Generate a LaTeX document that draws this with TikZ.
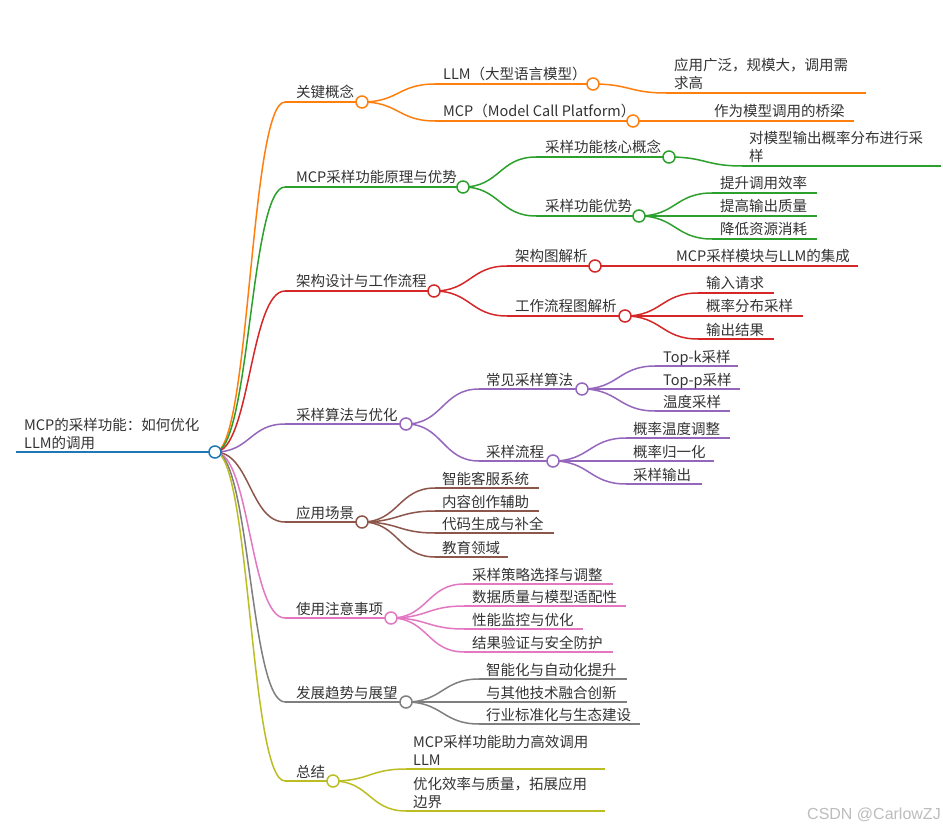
\documentclass[tikz,border=0pt]{standalone}
\usepackage{fontspec}
\setmainfont{Noto Sans CJK SC}
\newfontfamily\wmfont{Liberation Sans}
\usetikzlibrary{calc}
\definecolor{mmblue}{HTML}{1F77B4}
\definecolor{mmorange}{HTML}{FF7F0E}
\definecolor{mmgreen}{HTML}{2CA02C}
\definecolor{mmred}{HTML}{D62728}
\definecolor{mmpurple}{HTML}{9467BD}
\definecolor{mmbrown}{HTML}{8C564B}
\definecolor{mmpink}{HTML}{E377C2}
\definecolor{mmgray}{HTML}{7F7F7F}
\definecolor{mmolive}{HTML}{BCBD22}
\definecolor{mmtxt}{HTML}{333333}
\definecolor{wmgray}{HTML}{BDBDBD}
\tikzset{
  mmline/.style={line width=1.5pt},
  mmcurve/.style={to path={let \p1=(\tikztostart),\p2=(\tikztotarget) in
     .. controls ({(\x1+\x2)/2},\y1) and ({(\x1+\x2)/2},\y2) .. (\tikztotarget)}},
  mmtext/.style={anchor=base west, inner sep=0pt, text=mmtxt, font=\fontsize{14.5}{18}\selectfont},
  mmdotstyle/.style={circle, draw, minimum size=12pt, inner sep=0pt, fill=white, line width=1.5pt},
}
\newcommand\mmtopic[6]{% name x0 x1 y xt text
  \coordinate (#1-s) at (#2,#4);
  \coordinate (#1) at (#3,#4);
  \draw[mmline] (#1-s) -- (#1);
  \node[mmtext] (#1-t) at (#5,#4-4) {#6};
}
\newcommand\mmtopicII[7]{% name x0 x1 y xt line1 line2
  \coordinate (#1-s) at (#2,#4);
  \coordinate (#1) at (#3,#4);
  \draw[mmline] (#1-s) -- (#1);
  \node[mmtext] (#1-ta) at (#5,#4-22) {#6};
  \node[mmtext] (#1-t) at (#5,#4-4) {#7};
}
\newcommand\mmlink[2]{\draw[mmline] (#1) to[mmcurve] (#2-s);}
\newcommand\mmdot[1]{\node[mmdotstyle] (#1-c) at (#1) {};}
\begin{document}
\begin{tikzpicture}[x=1pt,y=-1pt]
\useasboundingbox (0,0) rectangle (943,829);
\fill[white] (0,0) rectangle (943,829);

\coordinate (r-s) at (16,452);
\coordinate (r) at (215,452);

% orange
\begin{scope}[color=mmorange]
\mmtopic{k}{285}{362}{102}{296}{关键概念}
\mmtopic{k1}{435}{593}{84}{443}{LLM（大型语言模型）}
\mmtopicII{k11}{666}{866}{93}{674}{应用广泛，规模大，调用需}{求高}
\mmtopic{k2}{435}{633}{121}{443}{MCP（Model Call Platform）}
\mmtopic{k21}{706}{854}{121}{714}{作为模型调用的桥梁}
\mmlink{r}{k}\mmlink{k}{k1}\mmlink{k1}{k11}\mmlink{k}{k2}\mmlink{k2}{k21}
\mmdot{k}\mmdot{k1}\mmdot{k2}
\end{scope}

% green
\begin{scope}[color=mmgreen]
\mmtopic{p}{285}{463}{187}{296}{MCP采样功能原理与优势}
\mmtopic{p1}{536}{669}{157}{545}{采样功能核心概念}
\mmtopicII{p11}{742}{941}{166}{749}{对模型输出概率分布进行采}{样}
\mmtopic{p2}{536}{639}{216}{545}{采样功能优势}
\mmtopic{p21}{712}{817}{193}{720}{提升调用效率}
\mmtopic{p22}{712}{817}{216}{720}{提高输出质量}
\mmtopic{p23}{712}{817}{239}{720}{降低资源消耗}
\mmlink{r}{p}\mmlink{p}{p1}\mmlink{p1}{p11}\mmlink{p}{p2}
\mmlink{p2}{p21}\mmlink{p2}{p22}\mmlink{p2}{p23}
\mmdot{p}\mmdot{p1}\mmdot{p2}
\end{scope}

% red
\begin{scope}[color=mmred]
\mmtopic{a}{285}{434}{291}{296}{架构设计与工作流程}
\mmtopic{a1}{507}{595}{266}{515}{架构图解析}
\mmtopic{a11}{668}{858}{266}{676}{MCP采样模块与LLM的集成}
\mmtopic{a2}{507}{625}{316}{515}{工作流程图解析}
\mmtopic{a21}{698}{774}{293}{706}{输入请求}
\mmtopic{a22}{698}{803}{316}{706}{概率分布采样}
\mmtopic{a23}{698}{774}{339}{706}{输出结果}
\mmlink{r}{a}\mmlink{a}{a1}\mmlink{a1}{a11}\mmlink{a}{a2}
\mmlink{a2}{a21}\mmlink{a2}{a22}\mmlink{a2}{a23}
\mmdot{a}\mmdot{a1}\mmdot{a2}
\end{scope}

% purple
\begin{scope}[color=mmpurple]
\mmtopic{s}{285}{406}{424}{296}{采样算法与优化}
\mmtopic{s1}{479}{582}{389}{486}{常见采样算法}
\mmtopic{s11}{655}{738}{366}{663}{Top-k采样}
\mmtopic{s12}{655}{740}{389}{663}{Top-p采样}
\mmtopic{s13}{655}{730}{411}{663}{温度采样}
\mmtopic{s2}{479}{553}{461}{486}{采样流程}
\mmtopic{s21}{626}{730}{438}{633}{概率温度调整}
\mmtopic{s22}{626}{714}{461}{633}{概率归一化}
\mmtopic{s23}{626}{702}{484}{633}{采样输出}
\mmlink{r}{s}\mmlink{s}{s1}\mmlink{s}{s2}
\mmlink{s1}{s11}\mmlink{s1}{s12}\mmlink{s1}{s13}
\mmlink{s2}{s21}\mmlink{s2}{s22}\mmlink{s2}{s23}
\mmdot{s}\mmdot{s1}\mmdot{s2}
\end{scope}

% brown
\begin{scope}[color=mmbrown]
\mmtopic{u}{285}{362}{522}{296}{应用场景}
\mmtopic{u1}{435}{539}{488}{442}{智能客服系统}
\mmtopic{u2}{435}{539}{511}{442}{内容创作辅助}
\mmtopic{u3}{435}{554}{533}{442}{代码生成与补全}
\mmtopic{u4}{435}{508}{557}{442}{教育领域}
\mmlink{r}{u}\mmlink{u}{u1}\mmlink{u}{u2}\mmlink{u}{u3}\mmlink{u}{u4}
\mmdot{u}
\end{scope}

% pink
\begin{scope}[color=mmpink]
\mmtopic{n}{285}{391}{618}{296}{使用注意事项}
\mmtopic{n1}{464}{613}{584}{472}{采样策略选择与调整}
\mmtopic{n2}{464}{626}{606}{472}{数据质量与模型适配性}
\mmtopic{n3}{464}{583}{629}{472}{性能监控与优化}
\mmtopic{n4}{464}{613}{652}{472}{结果验证与安全防护}
\mmlink{r}{n}\mmlink{n}{n1}\mmlink{n}{n2}\mmlink{n}{n3}\mmlink{n}{n4}
\mmdot{n}
\end{scope}

% gray
\begin{scope}[color=mmgray]
\mmtopic{d}{285}{406}{702}{296}{发展趋势与展望}
\mmtopic{d1}{479}{627}{679}{486}{智能化与自动化提升}
\mmtopic{d2}{479}{627}{702}{486}{与其他技术融合创新}
\mmtopic{d3}{479}{640}{724}{486}{行业标准化与生态建设}
\mmlink{r}{d}\mmlink{d}{d1}\mmlink{d}{d2}\mmlink{d}{d3}
\mmdot{d}
\end{scope}

% olive
\begin{scope}[color=mmolive]
\mmtopic{z}{285}{333}{781}{296}{总结}
\mmtopicII{z1}{406}{605}{769}{413}{MCP采样功能助力高效调用}{LLM}
\mmtopicII{z2}{406}{605}{811}{413}{优化效率与质量，拓展应用}{边界}
\mmlink{r}{z}\mmlink{z}{z1}\mmlink{z}{z2}
\mmdot{z}
\end{scope}

% root
\draw[mmblue, line width=2.5pt] (r-s) -- (r);
\node[mmtext] (r-ta) at (24,430) {MCP的采样功能：如何优化};
\node[mmtext] (r-t) at (24,448) {LLM的调用};
\node[mmdotstyle, draw=mmblue] (r-c) at (r) {};

\node[anchor=base east, inner sep=0pt, font=\wmfont\fontsize{16}{19}\selectfont, text=wmgray] (wm) at (941,819) {CSDN @CarlowZJ};
\end{tikzpicture}
\end{document}
